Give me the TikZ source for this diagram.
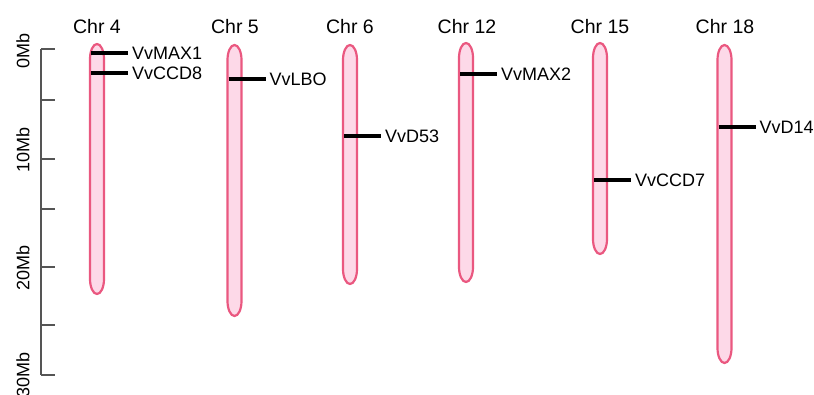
\documentclass[tikz,border=0pt]{standalone}
\usepackage{fontspec}
\setmainfont{Liberation Sans}
\definecolor{chrfill}{RGB}{253,217,232}
\definecolor{chredge}{RGB}{234,88,128}
\definecolor{axisgray}{RGB}{85,85,85}
\tikzset{
  chrbody/.style={fill=chrfill,draw=chredge,line width=2.2pt},
  chrlabel/.style={font=\fontsize{19.5}{20}\selectfont,inner sep=0pt},
  genemark/.style={line width=3.4pt,black},
  genelabel/.style={font=\fontsize{18}{19}\selectfont,anchor=west,inner sep=0pt},
  axisline/.style={line width=1.8pt,axisgray},
  axislabel/.style={font=\fontsize{18}{19}\selectfont,rotate=90,inner sep=0pt}
}
% chromosome: name, centre x, top y, bottom y
\newcommand{\chromo}[4]{%
  \draw[chrbody] (#2-7,#3+15) arc[start angle=180,end angle=360,x radius=7,y radius=15]
    -- (#2+7,#4-15) arc[start angle=0,end angle=180,x radius=7,y radius=15] -- cycle;
  \coordinate (#1) at (#2,#3);}
% gene mark: chromosome centre x, position y, node name, label
\newcommand{\gene}[4]{%
  \coordinate (#3s) at (#1-6,#2);
  \coordinate (#3e) at (#1+31,#2);
  \node[genelabel] (#3) at (#1+35,#2) {#4};
  \draw[genemark] (#3s) -- (#3e);}
\begin{document}
\begin{tikzpicture}[x=1pt,y=-1pt]
\useasboundingbox (0,0) rectangle (814,394);
% scale bar
\coordinate (ax0) at (41,49);
\coordinate (ax1) at (41,375);
\draw[axisline] (ax0) -- (ax1);
\foreach \t in {49,100,159,209,267,325,375}
  \draw[axisline] (41,\t) -- (55,\t);
\node[axislabel] (l0) at (23,51) {0Mb};
\node[axislabel] (l10) at (23,150) {10Mb};
\node[axislabel] (l20) at (23,268) {20Mb};
\node[axislabel] (l30) at (23,375) {30Mb};
% chromosomes
\chromo{c4}{97}{44}{294}
\chromo{c5}{234.5}{45}{316}
\chromo{c6}{350}{45}{284}
\chromo{c12}{466}{43}{282}
\chromo{c15}{600}{43}{254}
\chromo{c18}{724.5}{45}{363}
\node[chrlabel] (t4) at (97,26.5) {Chr 4};
\node[chrlabel] (t5) at (235,26.5) {Chr 5};
\node[chrlabel] (t6) at (350,26.5) {Chr 6};
\node[chrlabel] (t12) at (467,26.5) {Chr 12};
\node[chrlabel] (t15) at (600,26.5) {Chr 15};
\node[chrlabel] (t18) at (725,26.5) {Chr 18};
% gene positions
\gene{97}{53}{g1}{VvMAX1}
\gene{97}{73}{g2}{VvCCD8}
\gene{234.5}{79}{g3}{VvLBO}
\gene{350}{136}{g4}{VvD53}
\gene{466}{74}{g5}{VvMAX2}
\gene{600}{180}{g6}{VvCCD7}
\gene{724.5}{127}{g7}{VvD14}
\end{tikzpicture}
\end{document}
